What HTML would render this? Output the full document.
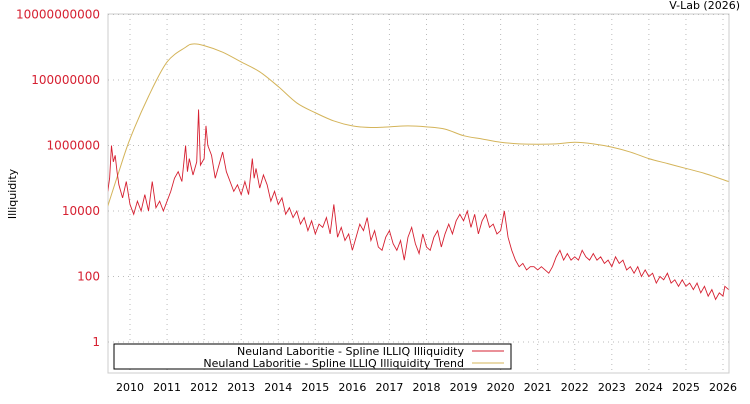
<!DOCTYPE html>
<html><head><meta charset="utf-8"><style>
body{margin:0;background:#fff;font-family:"DejaVu Sans","Liberation Sans",sans-serif;}
svg text{font-family:"DejaVu Sans","Liberation Sans",sans-serif;}
</style></head><body>
<svg id="c" width="750" height="400" xmlns="http://www.w3.org/2000/svg"></svg>
<script>
const yearTicks=[2010,2011,2012,2013,2014,2015,2016,2017,2018,2019,2020,2021,2022,2023,2024,2025,2026];
const yTickLabels=["1","100","10000","1000000","100000000","10000000000"];
const yTickExp=[0,2,4,6,8,10];
const trendYears=[2009.4,2009.7,2010,2010.5,2011,2011.5,2011.7,2012,2012.5,2013,2013.5,2014,2014.5,2015,2015.5,2016,2016.5,2017,2017.5,2018,2018.5,2019,2019.5,2020,2020.5,2021,2021.5,2022,2022.5,2023,2023.5,2024,2024.5,2025,2025.5,2026.15];
const trendLog=[4.15,5.2,6.2,7.5,8.55,9.0,9.1,9.05,8.85,8.55,8.25,7.8,7.3,7.0,6.75,6.6,6.55,6.57,6.6,6.57,6.5,6.3,6.2,6.1,6.05,6.04,6.05,6.1,6.05,5.95,5.8,5.6,5.45,5.3,5.15,4.9];
const illYears=[2009.4,2009.45,2009.5,2009.55,2009.6,2009.65,2009.7,2009.8,2009.9,2010,2010.1,2010.2,2010.3,2010.4,2010.5,2010.6,2010.7,2010.8,2010.9,2011,2011.1,2011.2,2011.3,2011.4,2011.5,2011.55,2011.6,2011.7,2011.8,2011.85,2011.9,2012,2012.05,2012.1,2012.2,2012.3,2012.4,2012.5,2012.6,2012.7,2012.8,2012.9,2013,2013.1,2013.2,2013.3,2013.35,2013.4,2013.5,2013.6,2013.7,2013.8,2013.9,2014,2014.1,2014.2,2014.3,2014.4,2014.5,2014.6,2014.7,2014.8,2014.9,2015,2015.1,2015.2,2015.3,2015.4,2015.5,2015.6,2015.7,2015.8,2015.9,2016,2016.1,2016.2,2016.3,2016.4,2016.5,2016.6,2016.7,2016.8,2016.9,2017,2017.1,2017.2,2017.3,2017.4,2017.5,2017.6,2017.7,2017.8,2017.9,2018,2018.1,2018.2,2018.3,2018.4,2018.5,2018.6,2018.7,2018.8,2018.9,2019,2019.1,2019.2,2019.3,2019.4,2019.5,2019.6,2019.7,2019.8,2019.9,2020,2020.1,2020.2,2020.3,2020.4,2020.5,2020.6,2020.7,2020.8,2020.9,2021,2021.1,2021.2,2021.3,2021.4,2021.5,2021.6,2021.7,2021.8,2021.9,2022,2022.1,2022.2,2022.3,2022.4,2022.5,2022.6,2022.7,2022.8,2022.9,2023,2023.1,2023.2,2023.3,2023.4,2023.5,2023.6,2023.7,2023.8,2023.9,2024,2024.1,2024.2,2024.3,2024.4,2024.5,2024.6,2024.7,2024.8,2024.9,2025,2025.1,2025.2,2025.3,2025.4,2025.5,2025.6,2025.7,2025.8,2025.9,2026,2026.05,2026.15];
const illLog=[4.6,5.0,6.0,5.5,5.7,5.2,4.8,4.4,4.9,4.2,3.9,4.3,4.0,4.5,4.0,4.9,4.1,4.3,4.0,4.3,4.6,5.0,5.2,4.9,6.0,5.2,5.6,5.1,5.5,7.1,5.4,5.6,6.6,6.0,5.7,5.0,5.4,5.8,5.2,4.9,4.6,4.8,4.5,4.9,4.5,5.6,5.0,5.3,4.7,5.1,4.8,4.3,4.6,4.2,4.4,3.9,4.1,3.8,4.0,3.6,3.8,3.4,3.7,3.3,3.6,3.5,3.8,3.3,4.2,3.2,3.5,3.1,3.3,2.8,3.2,3.6,3.4,3.8,3.1,3.4,2.9,2.8,3.2,3.4,3.0,2.8,3.1,2.5,3.2,3.5,3.0,2.7,3.3,2.9,2.8,3.2,3.4,2.9,3.3,3.6,3.3,3.7,3.9,3.7,4.0,3.5,3.9,3.3,3.7,3.9,3.5,3.6,3.3,3.4,4.0,3.2,2.8,2.5,2.3,2.4,2.2,2.3,2.3,2.2,2.3,2.2,2.1,2.3,2.6,2.8,2.5,2.7,2.5,2.6,2.5,2.8,2.6,2.5,2.7,2.5,2.6,2.4,2.5,2.3,2.6,2.4,2.5,2.2,2.3,2.1,2.3,2.0,2.2,2.0,2.1,1.8,2.0,1.9,2.1,1.8,1.9,1.7,1.9,1.7,1.8,1.6,1.8,1.5,1.7,1.4,1.6,1.3,1.5,1.4,1.7,1.6];
const L=108,R=729,T=14,B=373;
const x=y=>130+(y-2010)*(723-130)/16;
const yv=l=>342-l*32.75;
const svg=document.getElementById('c');const NS="http://www.w3.org/2000/svg";
function mk(t,a,p){const e=document.createElementNS(NS,t);for(const k in a)e.setAttribute(k,a[k]);(p||svg).appendChild(e);return e;}
function smooth(pts){let d='M'+pts[0][0]+','+pts[0][1];for(let i=0;i<pts.length-1;i++){const p0=pts[Math.max(0,i-1)],p1=pts[i],p2=pts[i+1],p3=pts[Math.min(pts.length-1,i+2)];
const c1=[p1[0]+(p2[0]-p0[0])/6,p1[1]+(p2[1]-p0[1])/6],c2=[p2[0]-(p3[0]-p1[0])/6,p2[1]-(p3[1]-p1[1])/6];
d+=' C'+c1[0]+','+c1[1]+' '+c2[0]+','+c2[1]+' '+p2[0]+','+p2[1];}return d;}
let e;
e=mk('rect',{x:L,y:T,width:R-L,height:B-T,fill:'#fff',stroke:'#ccc'});


yearTicks.forEach(t=>{const g=mk('line',{x1:x(t),x2:x(t),y1:T,y2:B,stroke:'#bbb','stroke-dasharray':'1,4'});


const tx=mk('text',{x:x(t),y:391,'font-size':11,'text-anchor':'middle',fill:'#000'});tx.textContent=t;

});
yTickExp.forEach((p,i)=>{const g=mk('line',{x1:L,x2:R,y1:yv(p),y2:yv(p),stroke:'#bbb','stroke-dasharray':'1,4'});


const tx=mk('text',{x:100,y:yv(p)+4,'font-size':12,'text-anchor':'end',fill:'#d62031'});tx.textContent=yTickLabels[i];

});
const cp=mk('clipPath',{id:'cl'});mk('rect',{x:L,y:T,width:R-L,height:B-T},cp);
e=mk('path',{d:smooth(trendYears.map((t,i)=>[x(t),yv(trendLog[i])])),fill:'none',stroke:'#d4b45a','stroke-width':1,'clip-path':'url(#cl)'});


e=mk('polyline',{points:illYears.map((t,i)=>x(t)+','+yv(illLog[i])).join(' '),fill:'none',stroke:'#d62031','stroke-width':0.9,'clip-path':'url(#cl)'});


e=mk('text',{x:16,y:194,'font-size':11,'text-anchor':'middle',transform:'rotate(-90 16 194)'});e.textContent='Illiquidity';


e=mk('text',{x:740,y:9,'font-size':11,'text-anchor':'end'});e.textContent='V-Lab (2026)';


const lg=mk('g',{});


mk('rect',{x:114,y:344,width:397,height:25,fill:'#fff',stroke:'#000'},lg);
e=mk('text',{x:464,y:355,'font-size':11,'text-anchor':'end'},lg);e.textContent='Neuland Laboritie - Spline ILLIQ Illiquidity';


e=mk('text',{x:464,y:367,'font-size':11,'text-anchor':'end'},lg);e.textContent='Neuland Laboritie - Spline ILLIQ Illiquidity Trend';


mk('line',{x1:472,x2:504,y1:351,y2:351,stroke:'#d62031'},lg);
mk('line',{x1:472,x2:504,y1:363,y2:363,stroke:'#d4b45a'},lg);
</script>
</body></html>
